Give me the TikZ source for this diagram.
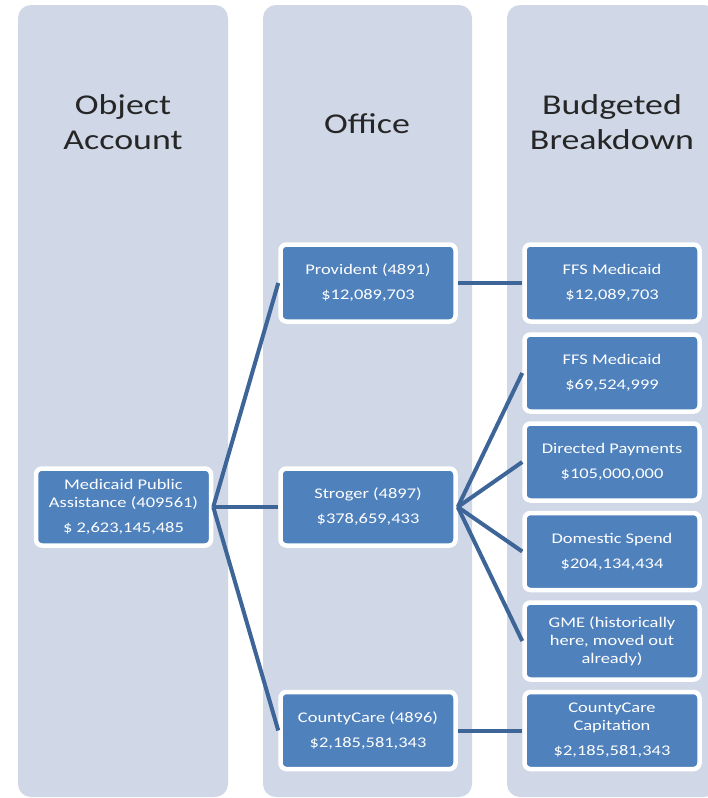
\documentclass[tikz,border=0pt]{standalone}
\usepackage{fontspec}
\setmainfont{Carlito}[FakeStretch=1.25]
\definecolor{lanebg}{HTML}{D0D8E8}
\definecolor{boxblue}{HTML}{4F81BD}
\definecolor{linkblue}{HTML}{3D6598}
\tikzset{
  lane/.style={fill=lanebg, rounded corners=13pt},
  head/.style={align=center, text=black!85, font=\fontsize{28.7}{35}\selectfont},
  budget/.style={rectangle, rounded corners=6pt, fill=boxblue, draw=white, line width=4.5pt,
    text=white, align=center, minimum width=175pt, minimum height=77pt, inner sep=0,
    font=\fontsize{14.75}{18}\selectfont},
  link/.style={draw=linkblue, line width=4pt}
}
\begin{document}
\begin{tikzpicture}[x=1pt, y=-1pt]
  \useasboundingbox (0,0) rectangle (708,798);
  % columns
  \fill[lane] (18,5) rectangle (228,797);
  \fill[lane] (263,5) rectangle (472,797);
  \fill[lane] (507,5) rectangle (717,797);

  \node[head](h1) at (123,122.5){Object\\Account};
  \node[head](h2) at (367,124){Office};
  \node[head](h3) at (612,122.5){Budgeted\\Breakdown};

  \node[budget](o1) at (123.5,507){Medicaid Public\\Assistance (409561)\\[7pt]\$ 2,623,145,485};

  \node[budget](f1) at (368,283){Provident (4891)\\[7pt]\$12,089,703};
  \node[budget](f2) at (368,507){Stroger (4897)\\[7pt]\$378,659,433};
  \node[budget](f3) at (368,730.5){CountyCare (4896)\\[7pt]\$2,185,581,343};

  \node[budget](b1) at (612,283){FFS Medicaid\\[7pt]\$12,089,703};
  \node[budget](b2) at (612,373){FFS Medicaid\\[7pt]\$69,524,999};
  \node[budget](b3) at (612,462){Directed Payments\\[7pt]\$105,000,000};
  \node[budget](b4) at (612,551.5){Domestic Spend\\[7pt]\$204,134,434};
  \node[budget](b5) at (612,641){GME (historically\\here, moved out\\already)};
  \node[budget](b6) at (612,730.5){CountyCare\\Capitation\\[7pt]\$2,185,581,343};

  % connectors
  \draw[link](o1.east)--(f1.west);
  \draw[link](o1.east)--(f2.west);
  \draw[link](o1.east)--(f3.west);
  \draw[link](f1.east)--(b1.west);
  \draw[link](f2.east)--(b2.west);
  \draw[link](f2.east)--(b3.west);
  \draw[link](f2.east)--(b4.west);
  \draw[link](f2.east)--(b5.west);
  \draw[link](f3.east)--(b6.west);
\end{tikzpicture}
\end{document}
